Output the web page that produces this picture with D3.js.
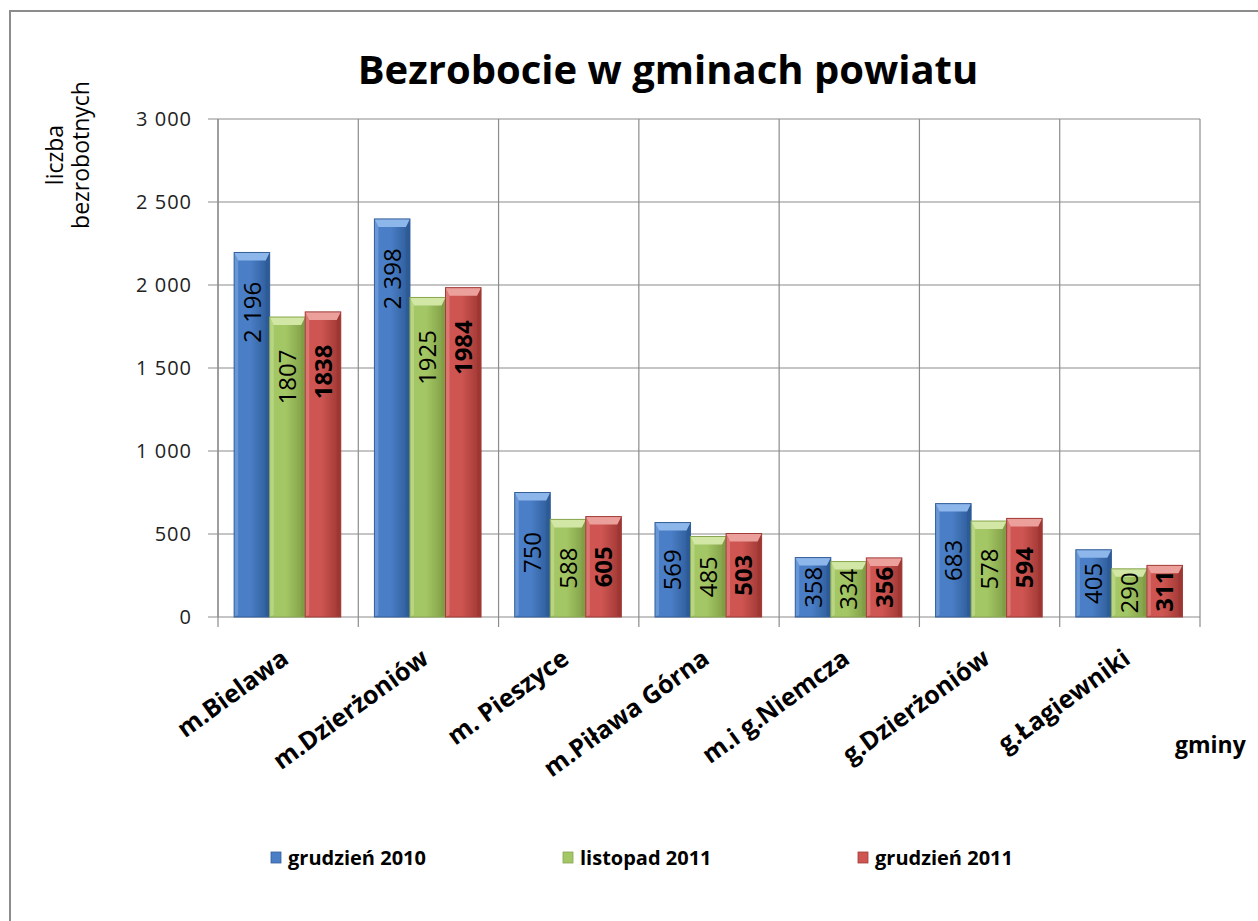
<!DOCTYPE html>
<html>
<head>
<meta charset="utf-8">
<script src="https://cdn.jsdelivr.net/npm/d3@7/dist/d3.min.js"></script>
<style>
  body { margin: 0; background: #fff; }
  svg { display: block; }
  text { font-family: "Open Sans", "DejaVu Sans", sans-serif; fill: #000; }
</style>
</head>
<body>
<div id="chart"></div>
<script>
// dane
var categories = ["m.Bielawa", "m.Dzierżoniów", "m. Pieszyce", "m.Piława Górna", "m.i g.Niemcza", "g.Dzierżoniów", "g.Łagiewniki"];
var seriesNames = ["grudzień 2010", "listopad 2011", "grudzień 2011"];
var grudzien2010 = [2196, 2398, 750, 569, 358, 683, 405];
var listopad2011 = [1807, 1925, 588, 485, 334, 578, 290];
var grudzien2011 = [1838, 1984, 605, 503, 356, 594, 311];
var yTicks = [0, 500, 1000, 1500, 2000, 2500, 3000];

var W = 1258, H = 921;
var margin = {left: 218, right: 58, top: 119, bottom: 304};
var pw = W - margin.left - margin.right, ph = H - margin.top - margin.bottom;

var colors = [
  {main: "#4a7ec6", light: "#8db6ea", dark: "#2c5a96", edge: "#335f99"},
  {main: "#a4c765", light: "#d2e7a6", dark: "#7f9c45", edge: "#88a64f"},
  {main: "#ce5551", light: "#eca09c", dark: "#9d3632", edge: "#a13d39"}
];

var svg = d3.select("#chart").append("svg")
  .attr("width", W).attr("height", H);

// ramka
svg.append("rect")
  .attr("x", 10).attr("y", 11).attr("width", W + 10).attr("height", H + 10)
  .attr("fill", "#fff").attr("stroke", "#8c8c8c").attr("stroke-width", 2);

var defs = svg.append("defs");
colors.forEach(function(c, i) {
  var g = defs.append("linearGradient").attr("id", "grad" + i)
    .attr("x1", 0).attr("x2", 1).attr("y1", 0).attr("y2", 0);
  g.append("stop").attr("offset", "0%").attr("stop-color", c.main);
  g.append("stop").attr("offset", "45%").attr("stop-color", c.main);
  g.append("stop").attr("offset", "100%").attr("stop-color", c.dark);
});

var x0 = d3.scaleBand().domain(categories).range([0, pw]);
var step = x0.step();
var x1 = d3.scaleBand().domain(d3.range(3)).range([step * 0.115, step * 0.875]);
var y = d3.scaleLinear().domain([0, 3000]).range([ph, 0]);

var fmtSpace = d3.formatLocale({decimal: ",", thousands: " ", grouping: [3], currency: ["", " zł"]}).format(",d");
var fmtPlain = d3.format("d");
var labelFormats = [fmtSpace, fmtPlain, fmtPlain];

var g = svg.append("g").attr("transform", "translate(" + margin.left + "," + margin.top + ")");

// siatka pozioma
g.append("g").selectAll("line").data(yTicks).enter().append("line")
  .attr("x1", -10).attr("x2", pw)
  .attr("y1", function(d) { return y(d); }).attr("y2", function(d) { return y(d); })
  .attr("stroke", "#8c8c8c").attr("stroke-width", 1.2);

// siatka pionowa
var bounds = d3.range(categories.length + 1);
g.append("g").selectAll("line").data(bounds).enter().append("line")
  .attr("x1", function(d) { return d * step; }).attr("x2", function(d) { return d * step; })
  .attr("y1", 0).attr("y2", ph + 10)
  .attr("stroke", "#8c8c8c").attr("stroke-width", 1.2);

// etykiety osi Y
g.append("g").selectAll("text").data(yTicks).enter().append("text")
  .attr("x", -26).attr("y", function(d) { return y(d); })
  .attr("dy", "0.35em").attr("text-anchor", "end")
  .style("font-size", "20px").style("letter-spacing", "1px").style("fill", "#222")
  .text(function(d) { return fmtSpace(d); });

// słupki
var series = [grudzien2010, listopad2011, grudzien2011];
var bev = 8, side = 4;
series.forEach(function(vals, si) {
  var c = colors[si];
  var bars = g.append("g").selectAll("g").data(vals).enter().append("g")
    .attr("transform", function(d, i) { return "translate(" + (x0(categories[i]) + x1(si)) + ",0)"; });
  var bw = x1.bandwidth();
  bars.append("rect")
    .attr("x", 0).attr("y", function(d) { return y(d); })
    .attr("width", bw).attr("height", function(d) { return y(0) - y(d); })
    .attr("fill", "url(#grad" + si + ")");
  // prawa krawędź
  bars.append("path").attr("fill", c.dark).attr("opacity", 0.8)
    .attr("d", function(d) {
      var t = y(d), b = y(0);
      return "M" + bw + "," + t + "L" + (bw - side) + "," + (t + bev) + "L" + (bw - side) + "," + (b - 2) + "L" + bw + "," + b + "Z";
    });
  // lewa krawędź
  bars.append("path").attr("fill", c.light).attr("opacity", 0.45)
    .attr("d", function(d) {
      var t = y(d), b = y(0);
      return "M0," + t + "L" + side + "," + (t + bev) + "L" + side + "," + (b - 2) + "L0," + b + "Z";
    });
  // góra (faza)
  bars.append("path").attr("fill", c.light)
    .attr("d", function(d) {
      var t = y(d);
      return "M0," + t + "L" + bw + "," + t + "L" + (bw - side) + "," + (t + bev) + "L" + side + "," + (t + bev) + "Z";
    });
  bars.append("rect")
    .attr("x", 0).attr("y", function(d) { return y(d); })
    .attr("width", bw).attr("height", function(d) { return y(0) - y(d); })
    .attr("fill", "none").attr("stroke", c.edge).attr("stroke-width", 1);
  // etykiety wartości
  bars.append("text")
    .attr("transform", function(d) {
      var t = y(d), cy = Math.min(t + 60, (t + y(0)) / 2);
      return "translate(" + (bw / 2) + "," + cy + ") rotate(-90)";
    })
    .attr("text-anchor", "middle").attr("dy", "0.36em")
    .style("font-size", "24px").style("font-weight", si === 2 ? "bold" : "normal")
    .text(function(d) { return labelFormats[si](d); });
});

// oś Y
g.append("line").attr("x1", 0).attr("x2", 0).attr("y1", 0).attr("y2", ph)
  .attr("stroke", "#8c8c8c").attr("stroke-width", 1.2);

// etykiety kategorii
g.append("g").selectAll("text").data(categories).enter().append("text")
  .attr("transform", function(d) { return "translate(" + (x0(d) + step / 2 + 2) + "," + (ph + 45) + ") rotate(-36)"; })
  .attr("text-anchor", "end")
  .style("font-size", "25px").style("font-weight", "bold")
  .text(function(d) { return d; });

// tytuł
svg.append("text").attr("x", 668).attr("y", 84).attr("text-anchor", "middle")
  .style("font-size", "40px").style("font-weight", "bold")
  .text("Bezrobocie w gminach powiatu");

// tytuł osi Y
var yt = svg.append("text").attr("transform", "translate(63,155) rotate(-90)")
  .attr("text-anchor", "middle").style("font-size", "23px");
yt.append("tspan").attr("x", 0).attr("dy", 0).text("liczba");
yt.append("tspan").attr("x", 0).attr("dy", "1.12em").text("bezrobotnych");

// tytuł osi X
svg.append("text").attr("x", 1175).attr("y", 753)
  .style("font-size", "23px").style("font-weight", "bold").text("gminy");

// legenda
var legX = [271, 563, 858];
var leg = svg.append("g").selectAll("g").data(seriesNames).enter().append("g")
  .attr("transform", function(d, i) { return "translate(" + legX[i] + ",858)"; });
leg.append("rect").attr("x", 0).attr("y", -6).attr("width", 10).attr("height", 11)
  .attr("fill", function(d, i) { return colors[i].main; })
  .attr("stroke", function(d, i) { return colors[i].edge; }).attr("stroke-width", 0.8);
leg.append("text").attr("x", 17).attr("dy", "0.36em")
  .style("font-size", "20px").style("font-weight", "bold")
  .text(function(d) { return d; });
</script>
</body>
</html>
